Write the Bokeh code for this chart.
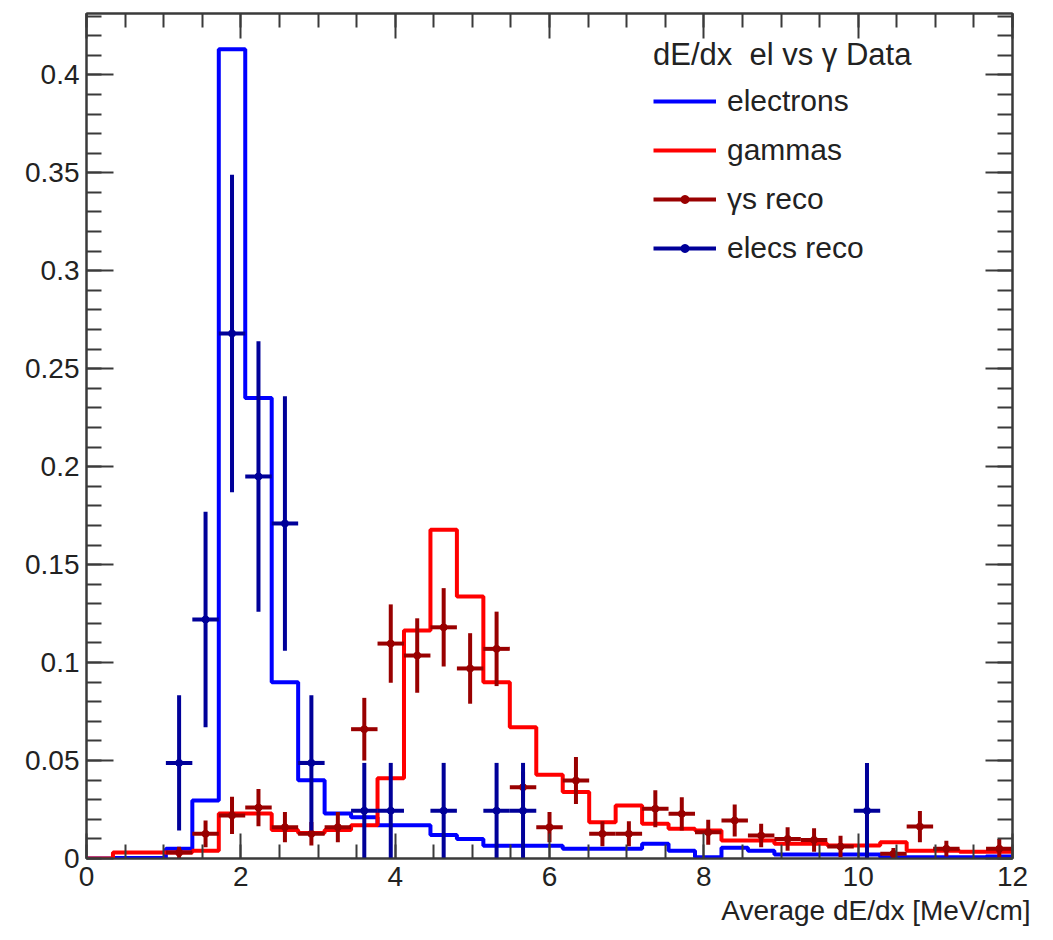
import numpy as np
from bokeh.plotting import figure
from bokeh.models import (Range1d, LinearAxis, SingleIntervalTicker, Legend,
                          LegendItem, ColumnDataSource, CustomJSTickFormatter, Title)
from bokeh.embed import file_html
from bokeh.resources import INLINE

# ---------------- data ----------------
x_lo, x_hi = 0.0, 12.0
n_bins = 35

electrons = [0.0, 0.0003, 0.0003, 0.005, 0.0296, 0.413, 0.235, 0.090, 0.040,
             0.023, 0.021, 0.017, 0.017, 0.012, 0.010, 0.0065, 0.0065, 0.0065,
             0.005, 0.005, 0.005, 0.0075, 0.004, 0.0007, 0.0055, 0.004, 0.002,
             0.002, 0.002, 0.002, 0.0007, 0.0007, 0.0007, 0.0007, 0.001]

gammas = [0.0, 0.003, 0.003, 0.003, 0.004, 0.023, 0.023, 0.0145, 0.013,
          0.0145, 0.017, 0.041, 0.1164, 0.1678, 0.1337, 0.090, 0.067, 0.0427,
          0.0339, 0.0185, 0.027, 0.0177, 0.0152, 0.0143, 0.0092, 0.0092,
          0.0075, 0.0075, 0.0066, 0.0066, 0.0083, 0.004, 0.004, 0.0035, 0.0035]

gam_reco_bin = [3, 4, 5, 6, 7, 8, 9, 10, 11, 12, 13, 14, 15, 16, 17, 18, 19,
                20, 21, 22, 23, 24, 25, 26, 27, 28, 30, 31, 32, 34]
gam_reco_val = [0.0030, 0.0126, 0.022, 0.026, 0.016, 0.0126, 0.016, 0.066,
                0.1097, 0.1036, 0.118, 0.097, 0.107, 0.0364, 0.016, 0.0398,
                0.0126, 0.0126, 0.0254, 0.0228, 0.0134, 0.0194, 0.0117, 0.010,
                0.0095, 0.0061, 0.0024, 0.0163, 0.005, 0.005]
gam_reco_err = [0.003, 0.0068, 0.0095, 0.0095, 0.0077, 0.006, 0.0077, 0.016,
                0.020, 0.019, 0.020, 0.018, 0.019, 0.008, 0.0077, 0.012,
                0.0064, 0.0064, 0.0094, 0.0085, 0.0064, 0.0082, 0.006, 0.006,
                0.006, 0.0055, 0.003, 0.008, 0.004, 0.005]

ele_reco_bin = [3, 4, 5, 6, 7, 8, 10, 11, 13, 15, 16, 29]
ele_reco_val = [0.0488, 0.122, 0.268, 0.195, 0.171, 0.0488, 0.0244, 0.0244,
                0.0244, 0.0244, 0.0244, 0.0244]
ele_reco_err = [0.0345, 0.055, 0.081, 0.069, 0.065, 0.0345, 0.0244, 0.0244,
                0.0244, 0.0244, 0.0244, 0.0244]

x_title = "Average dE/dx [MeV/cm]"
legend_header = "dE/dx  el vs \u03b3 Data"
labels = ["electrons", "gammas", "\u03b3s reco", "elecs reco"]

# ---------------- derived ----------------
edges = np.linspace(x_lo, x_hi, n_bins + 1)
width_bin = edges[1] - edges[0]
centers = 0.5 * (edges[:-1] + edges[1:])

FONT = "Liberation Sans"
AX_COL = "#3a3a3a"
TXT_COL = "#222222"

p = figure(width=1053, height=940, output_backend="svg", toolbar_location=None,
           x_range=Range1d(x_lo, x_hi), y_range=Range1d(0, 0.4313),
           min_border_left=86, min_border_right=41, min_border_top=13,
           min_border_bottom=82)
p.xgrid.visible = False
p.ygrid.visible = False
p.outline_line_color = AX_COL
p.outline_line_width = 2
p.background_fill_color = "white"
p.border_fill_color = "white"

xt = SingleIntervalTicker(interval=2, num_minor_ticks=4)
yt = SingleIntervalTicker(interval=0.05, num_minor_ticks=5)

def style_axis(ax, major_len, minor_len):
    ax.axis_line_color = AX_COL
    ax.axis_line_width = 2
    ax.major_tick_line_color = AX_COL
    ax.minor_tick_line_color = AX_COL
    ax.major_tick_line_width = 2
    ax.minor_tick_line_width = 2
    ax.major_tick_in = major_len
    ax.major_tick_out = 0
    ax.minor_tick_in = minor_len
    ax.minor_tick_out = 0
    ax.major_label_text_font = FONT
    ax.major_label_text_color = TXT_COL

p.xaxis.ticker = xt
p.yaxis.ticker = yt
style_axis(p.xaxis[0], 25, 14)
style_axis(p.yaxis[0], 27, 15)
p.xaxis.major_label_text_font_size = "28px"
p.yaxis.major_label_text_font_size = "28px"
p.xaxis.major_label_standoff = 8
p.yaxis.major_label_standoff = 7
p.yaxis.formatter = CustomJSTickFormatter(code="return tick.toFixed(2).replace(/0+$/,'').replace(/\\.$/,'');")

# x-axis title, right-aligned at the axis end (ROOT style)
p.add_layout(Title(text=x_title, align="right", offset=-18, standoff=8,
                   text_font=FONT, text_font_size="28px",
                   text_font_style="normal", text_color=TXT_COL), "below")

# mirrored axes (ticks only)
for loc, tick, ml, mn in (("above", xt, 25, 14), ("right", yt, 27, 15)):
    ax = LinearAxis(ticker=tick)
    style_axis(ax, ml, mn)
    ax.major_label_text_font_size = "1px"
    ax.major_label_standoff = 0
    ax.formatter = CustomJSTickFormatter(code="return '';")
    p.add_layout(ax, loc)

# histograms (step outlines)
step_x = list(edges)
r_el = p.step(x=step_x, y=list(electrons) + [electrons[-1]], mode="after",
              line_color="#0000ff", line_width=4)
r_ga = p.step(x=step_x, y=list(gammas) + [gammas[-1]], mode="after",
              line_color="#ff0000", line_width=4)

def reco(bins, vals, errs, color):
    xc = centers[bins]
    v = np.array(vals)
    e = np.array(errs)
    src = ColumnDataSource(dict(x=xc, y=v, lo=np.clip(v - e, 0, None), hi=v + e,
                                xl=xc - width_bin / 2, xr=xc + width_bin / 2))
    rv = p.segment(x0="x", y0="lo", x1="x", y1="hi", source=src,
                   line_color=color, line_width=4)
    rh = p.segment(x0="xl", y0="y", x1="xr", y1="y", source=src,
                   line_color=color, line_width=4)
    rm = p.scatter(x="x", y="y", source=src, size=7, marker="circle",
                   fill_color=color, line_color=color)
    return [rh, rv, rm]

r_gr = reco(gam_reco_bin, gam_reco_val, gam_reco_err, "#990000")
r_er = reco(ele_reco_bin, ele_reco_val, ele_reco_err, "#000099")

legend = Legend(items=[LegendItem(label=labels[0], renderers=[r_el]),
                       LegendItem(label=labels[1], renderers=[r_ga]),
                       LegendItem(label=labels[2], renderers=[r_gr[0], r_gr[2]]),
                       LegendItem(label=labels[3], renderers=[r_er[0], r_er[2]])],
                location=(567, 590))
legend.title = legend_header
legend.title_text_font = FONT
legend.title_text_font_size = "31px"
legend.title_text_font_style = "normal"
legend.title_text_color = TXT_COL
legend.title_standoff = 8
legend.label_text_font = FONT
legend.label_text_font_size = "30px"
legend.label_text_color = TXT_COL
legend.glyph_width = 63
legend.glyph_height = 20
legend.label_height = 40
legend.spacing = 9
legend.label_standoff = 11
legend.padding = 0
legend.margin = 0
legend.border_line_color = None
legend.background_fill_alpha = 0
p.add_layout(legend)

open("out.html", "w").write(file_html(p, INLINE))
